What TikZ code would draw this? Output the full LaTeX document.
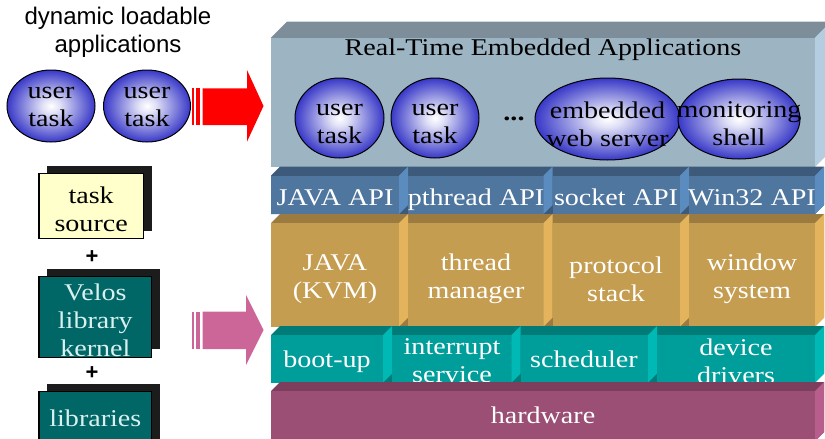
\documentclass[tikz,border=0pt]{standalone}
\usepackage{fontspec}
\setmainfont{Liberation Serif}
\newfontfamily\lblfont[FakeStretch=1.17]{Liberation Serif}
\newfontfamily\sansfont{Liberation Sans}
\usetikzlibrary{shapes.geometric}
\definecolor{appfront}{RGB}{157,180,195}
\definecolor{apptop}{RGB}{125,142,154}
\definecolor{appside}{RGB}{180,205,224}
\definecolor{apifront}{RGB}{78,118,158}
\definecolor{apitop}{RGB}{61,90,122}
\definecolor{apiside}{RGB}{90,140,192}
\definecolor{goldfront}{RGB}{196,157,80}
\definecolor{goldtop}{RGB}{155,123,64}
\definecolor{goldside}{RGB}{227,180,92}
\definecolor{tealfront}{RGB}{0,158,154}
\definecolor{tealtop}{RGB}{0,123,120}
\definecolor{tealside}{RGB}{0,185,181}
\definecolor{hwfront}{RGB}{156,79,116}
\definecolor{hwtop}{RGB}{124,62,92}
\definecolor{hwside}{RGB}{184,94,140}
\definecolor{ballblue}{RGB}{56,56,200}
\definecolor{srcfill}{RGB}{255,255,204}
\definecolor{velosfill}{RGB}{0,102,102}
\definecolor{velostext}{RGB}{216,240,240}
\definecolor{shadowc}{RGB}{28,28,28}
\definecolor{pinkarrow}{RGB}{204,102,153}
\colorlet{ballmid}{white!85!ballblue}
\pgfdeclareradialshading{ballshade}{\pgfpoint{0bp}{0bp}}{color(0bp)=(white); color(5bp)=(ballmid); color(25bp)=(ballblue); color(50bp)=(ballblue)}
\newcommand{\slabrow}[6]{%
  \fill[#6top] (#1,#3) -- ({#1+#5},{#3-#5}) -- ({#2+#5},{#3-#5}) -- ({#2+#5},{#4-#5}) -- (#2,#4) -- (#1,#4) -- cycle;}
\newcommand{\slabbox}[6]{%
  \fill[#6front] (#1,#3) rectangle (#2,#4);
  \fill[#6side] (#2,#3) -- ({#2+#5},{#3-#5}) -- ({#2+#5},{#4-#5}) -- (#2,#4) -- cycle;}
\tikzset{
  lbl/.style={font=\lblfont\fontsize{24}{28}\selectfont, align=center, inner sep=0pt, text=white},
  darklbl/.style={lbl, text=black},
  baselbl/.style={lbl, anchor=base},
  ball/.style={ellipse, draw=black, line width=1pt, shading=ballshade, inner sep=0pt},
  sanslbl/.style={font=\sansfont\fontsize{24}{28}\selectfont, align=center, inner sep=0pt},
  plus/.style={font=\sansfont\bfseries\fontsize{22}{22}\selectfont, inner sep=0pt},
  shadowbox/.style={fill=shadowc},
  frontbox/.style={draw=black, line width=1.2pt},
}
\begin{document}
\begin{tikzpicture}[x=1pt,y=-1pt]
\useasboundingbox (0,0) rectangle (825,439);
\clip (0,0) rectangle (825,439);

% ---------- top block: applications ----------
\slabrow{271}{815}{37.5}{166.7}{16}{app}
\slabbox{271}{815}{37.5}{166.7}{16}{app}
\node[baselbl, text=black] (rtea) at (543,55) {Real-Time Embedded Applications};
\node[ball, minimum width=89, minimum height=80] (ut1) at (339.5,118) {};
\node[darklbl] (ut1t) at (339.5,124) {user\\task};
\node[ball, minimum width=88, minimum height=80] (ut2) at (435,118) {};
\node[darklbl] (ut2t) at (435,124) {user\\task};
\node[font=\lblfont\bfseries\fontsize{24}{28}\selectfont, inner sep=0pt] (dots) at (514,119) {...};
\node[ball, minimum width=145, minimum height=82] (ews) at (607.5,119) {};
\node[darklbl] (ewst) at (607.5,124) {embedded\\web server};
\node[ball, minimum width=122, minimum height=80] (mon) at (739,119) {};
\node[darklbl] (mont) at (739,124) {monitoring\\shell};

% ---------- API row ----------
\slabrow{271}{815}{175.5}{214}{9}{api}
\slabbox{271}{399}{175.5}{214}{9}{api}
\slabbox{408}{543.5}{175.5}{214}{9}{api}
\slabbox{552.5}{680}{175.5}{214}{9}{api}
\slabbox{689}{815}{175.5}{214}{9}{api}
\node[baselbl] (japi) at (335,205) {JAVA API};
\node[baselbl] (papi) at (476,205) {pthread API};
\node[baselbl] (sapi) at (616,205) {socket API};
\node[baselbl] (wapi) at (752,205) {Win32 API};

% ---------- services row ----------
\slabrow{271}{815}{223}{326.5}{9}{gold}
\slabbox{271}{399}{223}{326.5}{9}{gold}
\slabbox{408}{543.5}{223}{326.5}{9}{gold}
\slabbox{552.5}{680}{223}{326.5}{9}{gold}
\slabbox{689}{815}{223}{326.5}{9}{gold}
\node[lbl] (kvm) at (335,279) {JAVA\\(KVM)};
\node[lbl] (thm) at (476,279) {thread\\manager};
\node[lbl] (prs) at (616,279) {protocol\\stack};
\node[lbl] (wns) at (752,279) {window\\system};

% ---------- kernel row ----------
\slabrow{271}{815}{335}{382.5}{9}{teal}
\slabbox{271}{383}{335}{382.5}{9}{teal}
\slabbox{392}{511.5}{335}{382.5}{9}{teal}
\slabbox{520.5}{648}{335}{382.5}{9}{teal}
\slabbox{657}{815}{335}{382.5}{9}{teal}
\node[baselbl] (boot) at (327,367) {boot-up};
\node[lbl] (intr) at (452,361) {interrupt\\service};
\node[baselbl] (sched) at (584,367) {scheduler};
\node[lbl] (devd) at (736,361) {device\\drivers};

% ---------- hardware ----------
\slabrow{271}{815}{391}{441}{9}{hw}
\slabbox{271}{815}{391}{441}{9}{hw}
\node[baselbl] (hw) at (543,423) {hardware};

% ---------- left side ----------
\node[sanslbl] (dla) at (118,32.5) {dynamic loadable\\applications};
\node[ball, minimum width=88, minimum height=72] (lt1) at (51,106) {};
\node[darklbl] (lt1t) at (51,107) {user\\task};
\node[ball, minimum width=87, minimum height=72] (lt2) at (147,106) {};
\node[darklbl] (lt2t) at (147,107) {user\\task};

% red arrow
\fill[red] (191.5,88.3) rectangle (194.3,125);
\fill[red] (196.3,88.3) rectangle (200.3,125);
\fill[red] (202.5,88.3) -- (247,88.3) -- (247,70) -- (263.5,106) -- (247,141.7) -- (247,125) -- (202.5,125) -- cycle;

% task source
\fill[shadowbox] (46.7,166) rectangle (152.3,230.7);
\node[frontbox, fill=srcfill, minimum width=104.3, minimum height=65, inner sep=0pt] (src) at (91.15,205.8) {};
\node[darklbl] (srct) at (91.15,209) {task\\source};
\node[plus] (p1) at (92,257) {+};

% Velos library kernel
\fill[shadowbox] (46.7,268.7) rectangle (160,349.3);
\node[frontbox, fill=velosfill, minimum width=112.7, minimum height=80.6, inner sep=0pt] (vel) at (95.35,317) {};
\node[lbl, text=velostext] (velt) at (95.35,320) {Velos\\library\\kernel};
\node[plus] (p2) at (92,373) {+};

% libraries
\fill[shadowbox] (46.7,384) rectangle (160,460);
\node[frontbox, fill=velosfill, minimum width=112.7, minimum height=60, inner sep=0pt] (lib) at (95.35,421.7) {};
\node[baselbl, text=velostext] (libt) at (95.35,426) {libraries};

% pink arrow
\fill[pinkarrow] (191.5,311.7) rectangle (194.3,349);
\fill[pinkarrow] (196.3,311.7) rectangle (200.3,349);
\fill[pinkarrow] (202.5,311.7) -- (246,311.7) -- (246,295) -- (263.5,330) -- (246,365) -- (246,349) -- (202.5,349) -- cycle;
\end{tikzpicture}
\end{document}
